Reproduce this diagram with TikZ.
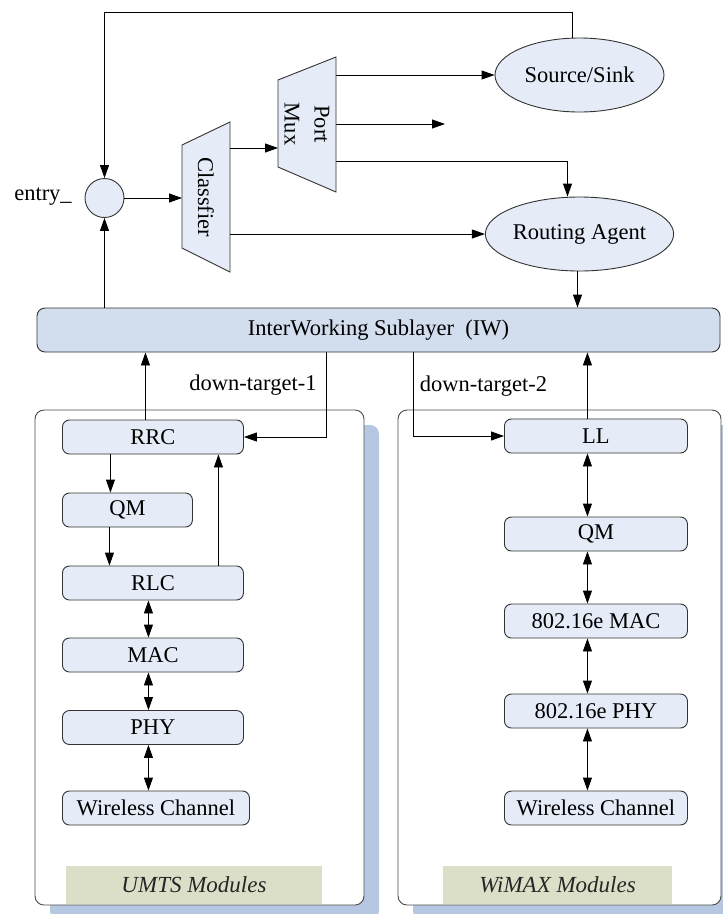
\documentclass[tikz,border=0pt]{standalone}
\usepackage{fontspec}
\setmainfont{Liberation Serif}
\newfontfamily\diagfont{Liberation Serif}
\usetikzlibrary{shapes.geometric,arrows.meta,shadows}
\definecolor{nodefill}{HTML}{E5EBF7}
\definecolor{iwfill}{HTML}{D2DDEE}
\definecolor{shadowc}{HTML}{B6C7E1}
\definecolor{labelfill}{HTML}{DCDFC7}
\definecolor{bordc}{HTML}{333333}
\definecolor{framec}{HTML}{4A4A4A}
\tikzset{
  line/.style={line width=0.9pt, draw=black},
  arr/.style={line, -{Triangle[length=13pt,width=9pt]}},
  darr/.style={line, {Triangle[length=13pt,width=9pt]}-{Triangle[length=13pt,width=9pt]}},
  modbox/.style={draw=bordc, line width=0.9pt, fill=nodefill, rounded corners=7pt,
    minimum height=34pt, inner sep=0pt, anchor=west},
  ellnode/.style={ellipse, draw=bordc, line width=0.9pt, fill=nodefill,
    minimum width=169pt, minimum height=74pt, inner sep=0pt},
  trap/.style={draw=bordc, line width=0.9pt, fill=nodefill},
  framebox/.style={draw=framec, line width=0.9pt, fill=white, rounded corners=9pt,
    minimum height=495pt, inner sep=0pt,
    drop shadow={shadow xshift=15pt, shadow yshift=-15pt, fill=shadowc, opacity=1}},
  modlabel/.style={fill=labelfill, minimum height=38pt, inner sep=0pt,
    font=\diagfont\fontsize{23}{30}\selectfont\itshape, text=black!85},
  txt/.style={inner sep=0pt}
}
\begin{document}
\begin{tikzpicture}[x=1pt,y=-1pt, font=\diagfont\fontsize{22.5}{30}\selectfont]
\useasboundingbox (0,0) rectangle (723,914);

% frames
\node[framebox, minimum width=329pt] (umts) at (199.5,657.5) {};
\node[framebox, minimum width=323pt] (wimax) at (559.5,657.5) {};
\node[modlabel, minimum width=256pt] (umtsl) at (194,885) {UMTS Modules};
\node[modlabel, minimum width=229pt] (wimaxl) at (557.5,885) {WiMAX Modules};

% top part
\node[circle, draw=bordc, line width=0.9pt, fill=nodefill, minimum size=39pt, inner sep=0pt] (circ) at (104.5,198) {};
\node[txt] (entry) at (43,197) {entry\_};

\draw[trap] (182,145) -- (230,122) -- (230,272) -- (182,248) -- cycle;
\node[txt, rotate=-90] (cls) at (206,197) {Classfier};
\coordinate (clsW) at (182,198);
\coordinate (clsE1) at (230,148);
\coordinate (clsE2) at (230,234);

\draw[trap] (278,80) -- (336,57) -- (336,192) -- (278,167) -- cycle;
\node[txt, rotate=-90, align=center] (mux) at (307,124) {Port\\Mux};
\coordinate (muxW) at (278,148);
\coordinate (muxE1) at (336,75);
\coordinate (muxE2) at (336,124);
\coordinate (muxE3) at (336,161);
\coordinate (muxOut) at (445,124);

\node[ellnode] (ss) at (579.5,75) {Source/Sink};
\node[ellnode] (ra) at (579.5,234) {Routing Agent};

\node[draw=bordc, line width=0.9pt, fill=iwfill, rounded corners=8pt, minimum width=683pt,
  minimum height=44pt, inner sep=0pt] (iw) at (378.5,330) {InterWorking Sublayer\ \ (IW)};

\draw[arr] ([xshift=-7pt]ss.north) -- ++(0,-25) -| (circ.north);
\draw[arr] (circ.east) -- (clsW);
\draw[arr] (clsE1) -- (muxW);
\draw[arr] (muxE1) -- (ss.west);
\draw[arr] (muxE2) -- (muxOut);
\draw[arr] (muxE3) -| ([xshift=-12pt]ra.north);
\draw[arr] (clsE2) -- (ra.west);
\draw[arr] ([xshift=-2pt]ra.south) -- ([xshift=-2pt]ra.south |- iw.north);
\draw[arr] (iw.north -| circ) -- (circ.south);

% UMTS modules
\node[modbox, minimum width=181pt] (rrc) at (62,437) {RRC};
\node[modbox, minimum width=130pt] (qm1) at (62,510) {QM};
\node[modbox, minimum width=181pt] (rlc) at (62,583) {RLC};
\node[modbox, minimum width=181pt] (mac1) at (62,655) {MAC};
\node[modbox, minimum width=181pt] (phy1) at (62,727.5) {PHY};
\node[modbox, minimum width=187pt] (wc1) at (62,808) {Wireless Channel};

% WiMAX modules
\node[modbox, minimum width=183pt] (ll) at (504,436) {LL};
\node[modbox, minimum width=183pt] (qm2) at (504,534) {QM};
\node[modbox, minimum width=183pt] (mac2) at (504,621) {802.16e MAC};
\node[modbox, minimum width=183pt] (phy2) at (504,711) {802.16e PHY};
\node[modbox, minimum width=183pt] (wc2) at (504,808) {Wireless Channel};

% down targets
\coordinate (dt1) at (326,352);
\coordinate (dt2) at (413,352);
\node[txt] (lbl1) at (253,385) {down-target-1};
\node[txt] (lbl2) at (483.5,386) {down-target-2};
\draw[arr] (dt1) |- (rrc.east);
\draw[arr] (dt2) |- (ll.west);
\draw[arr] ([xshift=-7.5pt]rrc.north) -- ([xshift=-7.5pt]rrc.north |- iw.south);
\draw[arr] ([xshift=-8.5pt]ll.north) -- ([xshift=-8.5pt]ll.north |- iw.south);

% UMTS connectors
\draw[arr] ([xshift=-17pt]qm1.north |- rrc.south) -- ([xshift=-17pt]qm1.north);
\draw[arr] ([xshift=-18pt]qm1.south) -- ([xshift=-18pt]qm1.south |- rlc.north);
\draw[arr] ([xshift=65.5pt]rlc.north) -- ([xshift=65.5pt]rlc.north |- rrc.south);
\draw[darr] ([xshift=-4.5pt]rlc.south) -- ([xshift=-4.5pt]mac1.north);
\draw[darr] ([xshift=-4.5pt]mac1.south) -- ([xshift=-4.5pt]phy1.north);
\draw[darr] ([xshift=-4.5pt]phy1.south) -- ([xshift=-4.5pt]phy1.south |- wc1.north);

% WiMAX connectors
\draw[darr] ([xshift=-8.5pt]ll.south) -- ([xshift=-8.5pt]qm2.north);
\draw[darr] ([xshift=-8.5pt]qm2.south) -- ([xshift=-8.5pt]mac2.north);
\draw[darr] ([xshift=-8.5pt]mac2.south) -- ([xshift=-8.5pt]phy2.north);
\draw[darr] ([xshift=-8.5pt]phy2.south) -- ([xshift=-8.5pt]wc2.north);
\end{tikzpicture}
\end{document}
